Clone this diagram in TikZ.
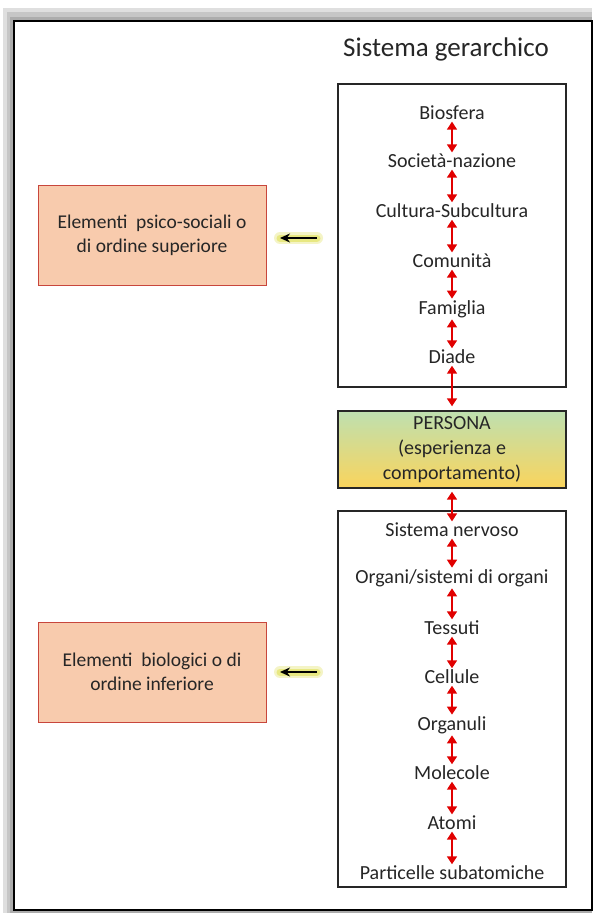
\documentclass[tikz,border=0pt]{standalone}
\usepackage{fontspec}
\setmainfont{Carlito}
\usetikzlibrary{arrows.meta}
\definecolor{salmone}{RGB}{248,203,173}
\definecolor{bordorosso}{RGB}{200,70,60}
\definecolor{frecciarossa}{RGB}{225,0,0}
\definecolor{verdechiaro}{RGB}{190,224,176}
\definecolor{giallocaldo}{RGB}{250,212,92}
\definecolor{alone}{RGB}{232,232,130}
\tikzset{
  voce/.style={font=\fontsize{20}{24}\selectfont, inner sep=1.5pt, text=black!85},
  doppia/.style={{Triangle[width=10pt,length=8pt]}-{Triangle[width=10pt,length=8pt]}, frecciarossa, line width=1.6pt},
  scatola/.style={draw=black!85, line width=1.4pt, minimum width=228pt},
  elemento/.style={draw=bordorosso, fill=salmone, line width=1pt, minimum width=228pt, minimum height=100pt,
    align=center, font=\fontsize{19.5}{24}\selectfont, text=black!85},
}
\begin{document}
\begin{tikzpicture}[x=1pt,y=-1pt]
    \useasboundingbox (0,0) rectangle (596,913);
    % Cornice con ombra
    \fill[gray!25] (3,8) rectangle (592,913);
    \fill[gray!45] (7,12) rectangle (592,913);
    \fill[gray!65] (10,17) rectangle (592,913);
    \draw[line width=1.5pt, fill=white] (14,21) rectangle (592,910);

    % Titolo
    \node[font=\fontsize{27}{32}\selectfont, text=black!85] (titolo) at (446,49) {Sistema gerarchico};

    % Riquadri del sistema
    \node[scatola, minimum height=303pt] (sopra) at (452,235.5) {};
    \node[scatola, minimum height=376pt] (sotto) at (452,699) {};
    \node[scatola, minimum height=77pt, top color=verdechiaro, bottom color=giallocaldo,
      align=center, font=\fontsize{20}{25}\selectfont, text=black!85] (persona) at (452,449.5)
      {PERSONA\\(esperienza e\\comportamento)};

    % Livelli superiori
    \node[voce] (biosfera) at (452,113) {Biosfera};
    \node[voce] (societa) at (452,161) {Società-nazione};
    \node[voce] (cultura) at (452,211) {Cultura-Subcultura};
    \node[voce] (comunita) at (452,261) {Comunità};
    \node[voce] (famiglia) at (452,309) {Famiglia};
    \node[voce] (diade) at (452,357) {Diade};

    % Livelli inferiori
    \node[voce] (nervoso) at (452,530) {Sistema nervoso};
    \node[voce] (organi) at (452,578) {Organi/sistemi di organi};
    \node[voce] (tessuti) at (452,628) {Tessuti};
    \node[voce] (cellule) at (452,677) {Cellule};
    \node[voce] (organuli) at (452,725) {Organuli};
    \node[voce] (molecole) at (452,773) {Molecole};
    \node[voce] (atomi) at (452,823) {Atomi};
    \node[voce] (particelle) at (452,873) {Particelle subatomiche};

    % Frecce doppie tra i livelli
    \draw[doppia] (biosfera) -- (societa);
    \draw[doppia] (societa) -- (cultura);
    \draw[doppia] (cultura) -- (comunita);
    \draw[doppia] (comunita) -- (famiglia);
    \draw[doppia] (famiglia) -- (diade);
    \draw[doppia, shorten >=4pt] (diade) -- (persona);
    \draw[doppia, shorten <=3pt] (persona) -- (nervoso);
    \draw[doppia] (nervoso) -- (organi);
    \draw[doppia] (organi) -- (tessuti);
    \draw[doppia] (tessuti) -- (cellule);
    \draw[doppia] (cellule) -- (organuli);
    \draw[doppia] (organuli) -- (molecole);
    \draw[doppia] (molecole) -- (atomi);
    \draw[doppia] (atomi) -- (particelle);

    % Elementi a sinistra
    \node[elemento] (psico) at (152,235) {Elementi\ \ psico-sociali o\\di ordine superiore};
    \node[elemento] (biologici) at (152,672) {Elementi\ \ biologici o di\\ordine inferiore};

    % Frecce nere con alone
    \coordinate (da1) at (317,238);
    \coordinate (a1) at (280,238);
    \coordinate (da2) at (317,672);
    \coordinate (a2) at (280,672);
    \draw[alone, line width=12pt, line cap=round, opacity=.45] (da1) -- (a1);
    \draw[alone, line width=12pt, line cap=round, opacity=.45] (da2) -- (a2);
    \draw[alone, line width=7pt, line cap=round] (da1) -- (a1);
    \draw[alone, line width=7pt, line cap=round] (da2) -- (a2);
    \draw[-{Stealth[length=10pt,width=9pt]}, line width=1.5pt] (da1) -- (a1);
    \draw[-{Stealth[length=10pt,width=9pt]}, line width=1.5pt] (da2) -- (a2);
\end{tikzpicture}
\end{document}
